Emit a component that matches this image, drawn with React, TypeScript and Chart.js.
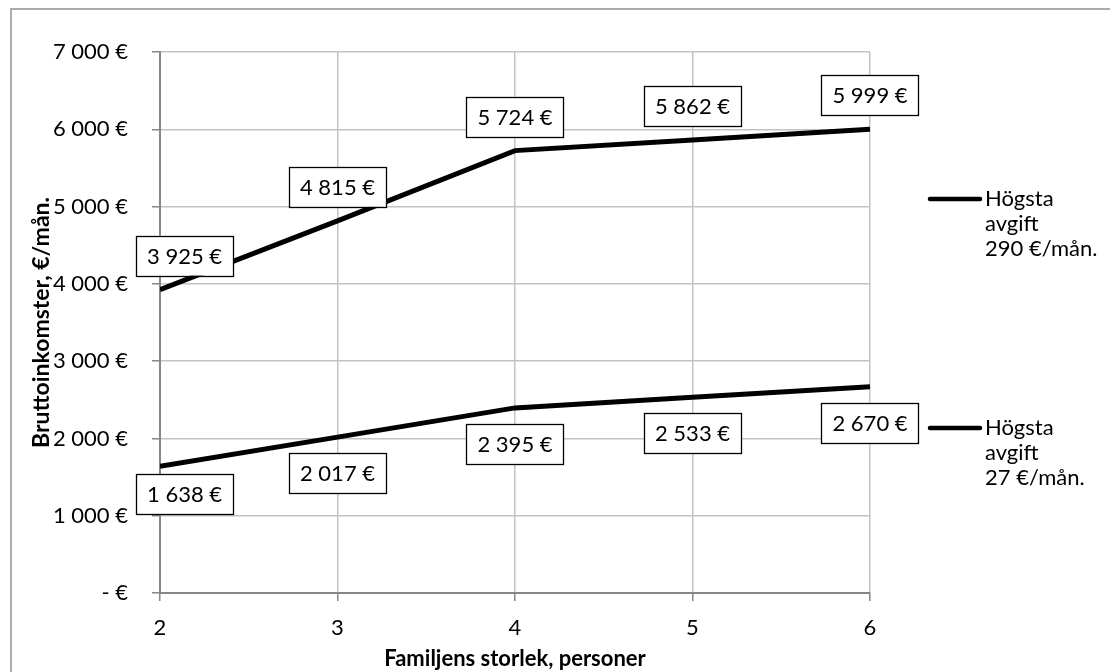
import { useEffect, useRef } from 'react';
import { Chart, registerables } from 'chart.js';

Chart.register(...registerables);

// ---- data ----
const familySizes = [2, 3, 4, 5, 6];
const highFeeIncome = [3925, 4815, 5724, 5862, 5999];
const lowFeeIncome = [1638, 2017, 2395, 2533, 2670];
const seriesNames = ['Högsta avgift 290\u00a0€/mån.', 'Högsta avgift 27\u00a0€/mån.'];
const labelSides = ['above', 'below'];
const yTickLabels = ['- €', '1 000 €', '2 000 €', '3 000 €', '4 000 €', '5 000 €', '6 000 €', '7 000 €'];
const xTickLabels = ['2', '3', '4', '5', '6'];
const xTitle = 'Familjens storlek, personer';
const yTitle = 'Bruttoinkomster, €/mån.';

const FONT = "Lato, 'Open Sans', 'Noto Sans', sans-serif";
const FS = 22;

const fmt = (v: number) => v.toString().replace(/\B(?=(\d{3})+(?!\d))/g, '\u00a0') + '\u00a0€';

const framePlugin = {
  id: 'frame',
  beforeDraw(chart: any) {
    const ctx = chart.ctx;
    ctx.save();
    ctx.fillStyle = '#ffffff';
    ctx.fillRect(0, 0, chart.width, chart.height);
    ctx.strokeStyle = '#ababab';
    ctx.lineWidth = 2;
    ctx.strokeRect(11, 9, chart.width + 20, chart.height + 20);
    ctx.restore();
  },
};

const dataLabelPlugin = {
  id: 'boxLabels',
  afterDatasetsDraw(chart: any) {
    const ctx = chart.ctx;
    const area = chart.chartArea;
    ctx.save();
    ctx.font = `${FS}px ${FONT}`;
    ctx.textAlign = 'center';
    ctx.textBaseline = 'middle';
    chart.data.datasets.forEach((ds: any, di: number) => {
      const meta = chart.getDatasetMeta(di);
      const side = labelSides[di];
      meta.data.forEach((pt: any, i: number) => {
        const raw = ds.data[i];
        const value = typeof raw === 'number' ? raw : raw.y;
        const text = fmt(value);
        const tw = ctx.measureText(text).width;
        const w = tw + 22;
        const h = 40;
        let cx = pt.x;
        const nearAxis = cx - w / 2 < area.left - 24;
        if (nearAxis) cx = area.left - 24 + w / 2;
        const cy = side === 'above' ? pt.y - 34 : pt.y + (nearAxis ? 28 : 36);
        ctx.fillStyle = '#ffffff';
        ctx.fillRect(cx - w / 2, cy - h / 2, w, h);
        ctx.strokeStyle = '#000000';
        ctx.lineWidth = 1.3;
        ctx.strokeRect(Math.round(cx - w / 2) + 0.5, Math.round(cy - h / 2) + 0.5, Math.round(w), h);
        ctx.fillStyle = '#000000';
        ctx.fillText(text, cx, cy + 1);
      });
    });
    ctx.restore();
  },
};

const sideLegendPlugin = {
  id: 'sideLegend',
  afterDraw(chart: any) {
    const ctx = chart.ctx;
    const tops = [199, 428];
    ctx.save();
    ctx.font = `${FS}px ${FONT}`;
    ctx.textAlign = 'left';
    ctx.textBaseline = 'middle';
    chart.data.datasets.forEach((ds: any, di: number) => {
      const y = tops[di];
      ctx.strokeStyle = ds.borderColor;
      ctx.lineWidth = 4.5;
      ctx.lineCap = 'round';
      ctx.beginPath();
      ctx.moveTo(930, y);
      ctx.lineTo(980, y);
      ctx.stroke();
      ctx.fillStyle = '#000000';
      const lines = String(ds.label).split(' ');
      lines.forEach((ln: string, li: number) => {
        ctx.fillText(ln, 985, y + li * 25);
      });
    });
    ctx.restore();
  },
};

export default function App() {
  const ref = useRef<HTMLCanvasElement | null>(null);

  useEffect(() => {
    if (!ref.current) return;
    const chart = new Chart(ref.current, {
      type: 'line',
      data: {
        datasets: [
          {
            label: seriesNames[0],
            data: highFeeIncome.map((v, i) => ({ x: familySizes[i], y: v })) as any,
            borderColor: '#000000',
            backgroundColor: '#000000',
            borderWidth: 5,
            pointRadius: 0,
            tension: 0,
          },
          {
            label: seriesNames[1],
            data: lowFeeIncome.map((v, i) => ({ x: familySizes[i], y: v })) as any,
            borderColor: '#000000',
            backgroundColor: '#000000',
            borderWidth: 5,
            pointRadius: 0,
            tension: 0,
          },
        ],
      },
      options: {
        responsive: false,
        animation: false,
        devicePixelRatio: 1,
        layout: { padding: { top: 52, right: 240, bottom: 0, left: 0 } },
        plugins: {
          legend: { display: false },
          tooltip: { enabled: false },
        },
        scales: {
          x: {
            type: 'linear',
            min: 2,
            max: 6,
            afterFit: (s: any) => { s.height = 79; },
            ticks: {
              stepSize: 1,
              color: '#000000',
              padding: 14,
              font: { family: FONT, size: FS },
              callback: (v: any, i: number) => xTickLabels[i] ?? String(v),
            },
            grid: { color: '#c3c3c3', tickColor: '#868686', tickLength: 8, lineWidth: 1.5 },
            border: { color: '#868686', width: 2 },
            title: {
              display: true,
              text: xTitle,
              color: '#000000',
              font: { family: FONT, size: FS, weight: 'bold' },
              padding: { top: 0, bottom: 0 },
            },
          },
          y: {
            type: 'linear',
            min: 0,
            max: 7000,
            afterFit: (s: any) => { s.width = 160; },
            ticks: {
              stepSize: 1000,
              color: '#000000',
              padding: 24,
              font: { family: FONT, size: FS },
              callback: (v: any, i: number) => yTickLabels[i] ?? String(v),
            },
            grid: { color: '#c3c3c3', tickColor: '#868686', tickLength: 8, lineWidth: 1.5 },
            border: { color: '#868686', width: 2 },
            title: {
              display: true,
              text: yTitle,
              color: '#000000',
              font: { family: FONT, size: 23, weight: 'bold' },
              padding: { top: 28, bottom: 0 },
            },
          },
        },
      },
      plugins: [framePlugin, dataLabelPlugin, sideLegendPlugin],
    });
    return () => chart.destroy();
  }, []);

  return (
    <div style={{ position: 'absolute', left: 0, top: 0, width: 1110, height: 672 }}>
      <canvas ref={ref} width={1110} height={672} style={{ width: 1110, height: 672, display: 'block' }} />
    </div>
  );
}
